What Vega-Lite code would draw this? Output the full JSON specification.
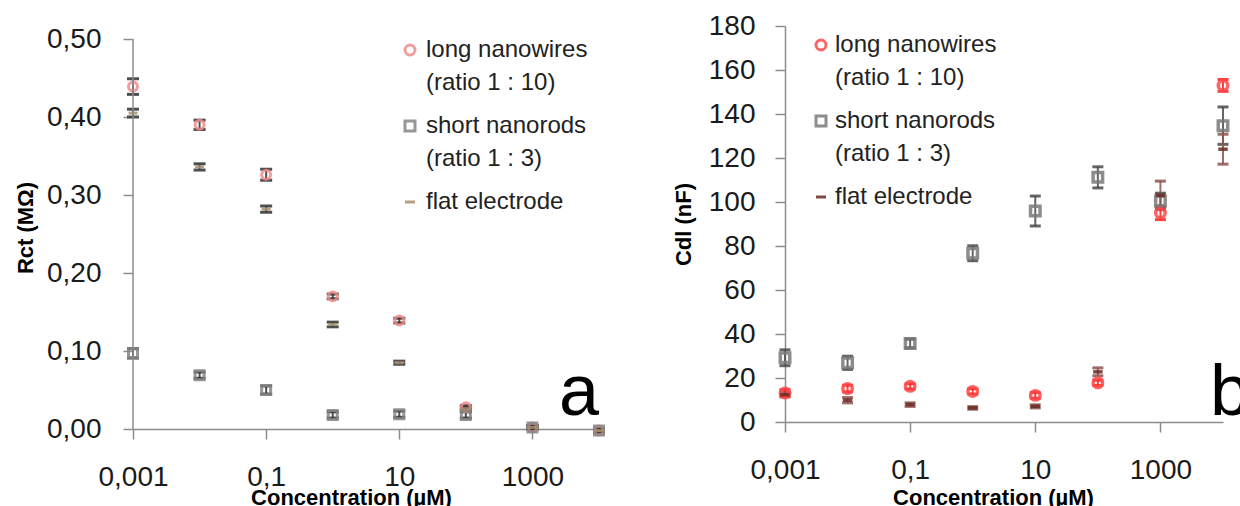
{
  "$schema": "https://vega.github.io/schema/vega-lite/v6.json",
  "background": "white",
  "padding": {"left": 14, "top": 12, "right": 0, "bottom": 0},
  "spacing": 62,
  "resolve": {"scale": {"color": "independent", "shape": "independent"}, "legend": {"color": "independent", "shape": "independent"}},
  "config": {
    "view": {"stroke": null},
    "font": "Liberation Sans",
    "axis": {"grid": false, "domainColor": "#8c8c8c", "domainWidth": 1.5, "tickColor": "#8c8c8c", "tickWidth": 1.5, "tickSize": 10, "labelFont": "Liberation Sans", "labelFontSize": 28, "labelColor": "#1a1a1a", "titleFont": "Liberation Sans", "titleFontSize": 22, "titleFontWeight": "bold", "titleColor": "#000000", "labelFlush": false, "labelOverlap": false},
    "style": {"guide-label": {"lineHeight": 33}}
  },
  "datasets": {
    "rct": [
      {"conc": 0.001, "series": "long nanowires", "v": 0.439, "err": 0.010},
      {"conc": 0.01, "series": "long nanowires", "v": 0.390, "err": 0.006},
      {"conc": 0.1, "series": "long nanowires", "v": 0.326, "err": 0.007},
      {"conc": 1, "series": "long nanowires", "v": 0.170, "err": 0.003},
      {"conc": 10, "series": "long nanowires", "v": 0.139, "err": 0.003},
      {"conc": 100, "series": "long nanowires", "v": 0.028, "err": 0.002},
      {"conc": 1000, "series": "long nanowires", "v": 0.002, "err": 0.002},
      {"conc": 10000, "series": "long nanowires", "v": -0.002, "err": 0.002},
      {"conc": 0.001, "series": "short nanorods", "v": 0.097, "err": 0.006},
      {"conc": 0.01, "series": "short nanorods", "v": 0.069, "err": 0.004},
      {"conc": 0.1, "series": "short nanorods", "v": 0.050, "err": 0.005},
      {"conc": 1, "series": "short nanorods", "v": 0.018, "err": 0.004},
      {"conc": 10, "series": "short nanorods", "v": 0.019, "err": 0.004},
      {"conc": 100, "series": "short nanorods", "v": 0.018, "err": 0.004},
      {"conc": 1000, "series": "short nanorods", "v": 0.002, "err": 0.002},
      {"conc": 10000, "series": "short nanorods", "v": -0.002, "err": 0.002},
      {"conc": 0.001, "series": "flat electrode", "v": 0.405, "err": 0.005},
      {"conc": 0.01, "series": "flat electrode", "v": 0.336, "err": 0.004},
      {"conc": 0.1, "series": "flat electrode", "v": 0.282, "err": 0.004},
      {"conc": 1, "series": "flat electrode", "v": 0.134, "err": 0.003},
      {"conc": 10, "series": "flat electrode", "v": 0.085, "err": 0.002},
      {"conc": 100, "series": "flat electrode", "v": 0.026, "err": 0.002},
      {"conc": 1000, "series": "flat electrode", "v": 0.002, "err": 0.002},
      {"conc": 10000, "series": "flat electrode", "v": -0.002, "err": 0.002}
    ],
    "cdl": [
      {"conc": 0.001, "series": "long nanowires", "v": 13.2, "err": 1.5},
      {"conc": 0.01, "series": "long nanowires", "v": 15.2, "err": 1.5},
      {"conc": 0.1, "series": "long nanowires", "v": 16.2, "err": 1.2},
      {"conc": 1, "series": "long nanowires", "v": 13.9, "err": 1.2},
      {"conc": 10, "series": "long nanowires", "v": 12.1, "err": 1.3},
      {"conc": 100, "series": "long nanowires", "v": 17.8, "err": 1.2},
      {"conc": 1000, "series": "long nanowires", "v": 95.0, "err": 3.0},
      {"conc": 10000, "series": "long nanowires", "v": 153.0, "err": 2.7},
      {"conc": 0.001, "series": "short nanorods", "v": 29.2, "err": 3.6},
      {"conc": 0.01, "series": "short nanorods", "v": 26.9, "err": 3.0},
      {"conc": 0.1, "series": "short nanorods", "v": 35.7, "err": 2.0},
      {"conc": 1, "series": "short nanorods", "v": 76.7, "err": 3.4},
      {"conc": 10, "series": "short nanorods", "v": 95.9, "err": 6.8},
      {"conc": 100, "series": "short nanorods", "v": 111.2, "err": 4.8},
      {"conc": 1000, "series": "short nanorods", "v": 100.5, "err": 3.5},
      {"conc": 10000, "series": "short nanorods", "v": 134.7, "err": 8.5},
      {"conc": 0.001, "series": "flat electrode", "v": 12.4, "err": 1.0},
      {"conc": 0.01, "series": "flat electrode", "v": 9.9, "err": 1.2},
      {"conc": 0.1, "series": "flat electrode", "v": 7.9, "err": 0.8},
      {"conc": 1, "series": "flat electrode", "v": 6.4, "err": 0.6},
      {"conc": 10, "series": "flat electrode", "v": 7.1, "err": 0.7},
      {"conc": 100, "series": "flat electrode", "v": 22.8, "err": 1.8},
      {"conc": 1000, "series": "flat electrode", "v": 103.0, "err": 6.5},
      {"conc": 10000, "series": "flat electrode", "v": 124.0, "err": 6.8}
    ]
  },
  "hconcat": [
    {
      "width": 466,
      "height": 403,
      "data": {"name": "rct"},
      "encoding": {
        "x": {"field": "conc", "type": "quantitative", "scale": {"type": "log", "domain": [0.001, 10000], "nice": false},
              "axis": {"title": "Concentration (µM)", "titleX": 218, "values": [0.001, 0.1, 10, 1000], "format": "~g", "labelExpr": "replace(datum.label, '.', ',')", "labelPadding": 24, "titlePadding": -4}},
        "y": {"field": "v", "type": "quantitative", "scale": {"domain": [0, 0.51667], "nice": false, "zero": false},
              "axis": {"title": "Rct (MΩ)", "domain": false, "values": [0, 0.1, 0.2, 0.3, 0.4, 0.5], "format": ".2f", "labelExpr": "replace(datum.label, '.', ',')", "labelPadding": 22, "titlePadding": 9}}
      },
      "layer": [
        {
          "mark": {"type": "errorbar", "color": "#3c3c3c", "opacity": 0.9, "ticks": {"size": 12, "thickness": 3}, "rule": {"strokeWidth": 2}},
          "encoding": {"yError": {"field": "err"}}
        },
        {
          "mark": {"type": "point", "filled": false, "strokeWidth": 3, "size": 80, "opacity": 0.85},
          "encoding": {
            "color": {"field": "series", "type": "nominal",
              "scale": {"domain": ["long nanowires", "short nanorods", "flat electrode"], "range": ["#f08c8c", "#858585", "#a89070"]},
              "legend": {"title": null, "orient": "none", "legendX": 265, "legendY": 12, "padding": 0, "symbolSize": 100, "symbolStrokeWidth": 3, "labelFontSize": 24, "labelColor": "#222222", "labelOffset": 4, "rowPadding": 19, "labelLimit": 400,
                "labelExpr": "datum.label == 'long nanowires' ? ['long nanowires', '(ratio 1 : 10)'] : datum.label == 'short nanorods' ? ['short nanorods', '(ratio 1 : 3)'] : datum.label"}},
            "shape": {"field": "series", "type": "nominal",
              "scale": {"domain": ["long nanowires", "short nanorods", "flat electrode"], "range": ["circle", "square", "M-1,0H1"]},
              "legend": {"title": null, "orient": "none", "legendX": 265, "legendY": 12, "padding": 0, "symbolSize": 100, "symbolStrokeWidth": 3, "labelFontSize": 24, "labelColor": "#222222", "labelOffset": 4, "rowPadding": 19, "labelLimit": 400,
                "labelExpr": "datum.label == 'long nanowires' ? ['long nanowires', '(ratio 1 : 10)'] : datum.label == 'short nanorods' ? ['short nanorods', '(ratio 1 : 3)'] : datum.label"}}
          }
        },
        {
          "data": {"values": [{"conc": 10000, "v": 0, "label": "a"}]},
          "mark": {"type": "text", "fontSize": 72, "font": "Liberation Sans", "align": "right", "baseline": "alphabetic", "dy": -14, "color": "#000000"},
          "encoding": {"text": {"field": "label", "type": "nominal"}}
        },
        {
          "data": {"values": [{"conc": 0.001, "v": 0, "v2": 0.5}]},
          "mark": {"type": "rule", "color": "#8c8c8c", "strokeWidth": 1.5},
          "encoding": {"y2": {"field": "v2"}}
        }
      ]
    },
    {
      "width": 438,
      "height": 396,
      "data": {"name": "cdl"},
      "encoding": {
        "x": {"field": "conc", "type": "quantitative", "scale": {"type": "log", "domain": [0.001, 10000], "nice": false},
              "axis": {"title": "Concentration (µM)", "titleX": 208, "values": [0.001, 0.1, 10, 1000], "format": "~g", "labelExpr": "replace(datum.label, '.', ',')", "labelPadding": 24, "titlePadding": 3}},
        "y": {"field": "v", "type": "quantitative", "scale": {"domain": [0, 180], "nice": false},
              "axis": {"title": "Cdl (nF)", "values": [0, 20, 40, 60, 80, 100, 120, 140, 160, 180], "format": "d", "labelPadding": 20, "titlePadding": 13}}
      },
      "layer": [
        {
          "transform": [{"filter": "datum.series == 'short nanorods'"}],
          "mark": {"type": "errorbar", "color": "#4a4a4a", "opacity": 0.85, "ticks": {"size": 11, "thickness": 3}, "rule": {"strokeWidth": 2}},
          "encoding": {"yError": {"field": "err"}}
        },
        {
          "transform": [{"filter": "datum.series == 'flat electrode'"}],
          "mark": {"type": "errorbar", "color": "#8c5550", "opacity": 0.85, "ticks": {"size": 11, "thickness": 3}, "rule": {"strokeWidth": 2}},
          "encoding": {"yError": {"field": "err"}}
        },
        {
          "transform": [{"filter": "datum.series == 'long nanowires'"}],
          "mark": {"type": "errorbar", "color": "#ff2020", "opacity": 0.85, "ticks": {"size": 11, "thickness": 3}, "rule": {"strokeWidth": 2}},
          "encoding": {"yError": {"field": "err"}}
        },
        {
          "mark": {"type": "point", "filled": false, "strokeWidth": 3.5, "size": 90, "opacity": 0.85},
          "encoding": {
            "color": {"field": "series", "type": "nominal",
              "scale": {"domain": ["long nanowires", "short nanorods", "flat electrode"], "range": ["#ff4a4a", "#7a7a7a", "#6b2a22"]},
              "legend": {"title": null, "orient": "none", "legendX": 24, "legendY": 7, "padding": 0, "symbolSize": 100, "symbolStrokeWidth": 3, "labelFontSize": 24, "labelColor": "#222222", "labelOffset": 2, "rowPadding": 19, "labelLimit": 400,
                "labelExpr": "datum.label == 'long nanowires' ? ['long nanowires', '(ratio 1 : 10)'] : datum.label == 'short nanorods' ? ['short nanorods', '(ratio 1 : 3)'] : datum.label"}},
            "shape": {"field": "series", "type": "nominal",
              "scale": {"domain": ["long nanowires", "short nanorods", "flat electrode"], "range": ["circle", "square", "M-1,0H1"]},
              "legend": {"title": null, "orient": "none", "legendX": 24, "legendY": 7, "padding": 0, "symbolSize": 100, "symbolStrokeWidth": 3, "labelFontSize": 24, "labelColor": "#222222", "labelOffset": 2, "rowPadding": 19, "labelLimit": 400,
                "labelExpr": "datum.label == 'long nanowires' ? ['long nanowires', '(ratio 1 : 10)'] : datum.label == 'short nanorods' ? ['short nanorods', '(ratio 1 : 3)'] : datum.label"}}
          }
        },
        {
          "data": {"values": [{"conc": 10000, "v": 0, "label": "b"}]},
          "mark": {"type": "text", "fontSize": 72, "font": "Liberation Sans", "align": "left", "baseline": "alphabetic", "dx": -13, "dy": -7, "color": "#000000"},
          "encoding": {"text": {"field": "label", "type": "nominal"}}
        }
      ]
    }
  ]
}
